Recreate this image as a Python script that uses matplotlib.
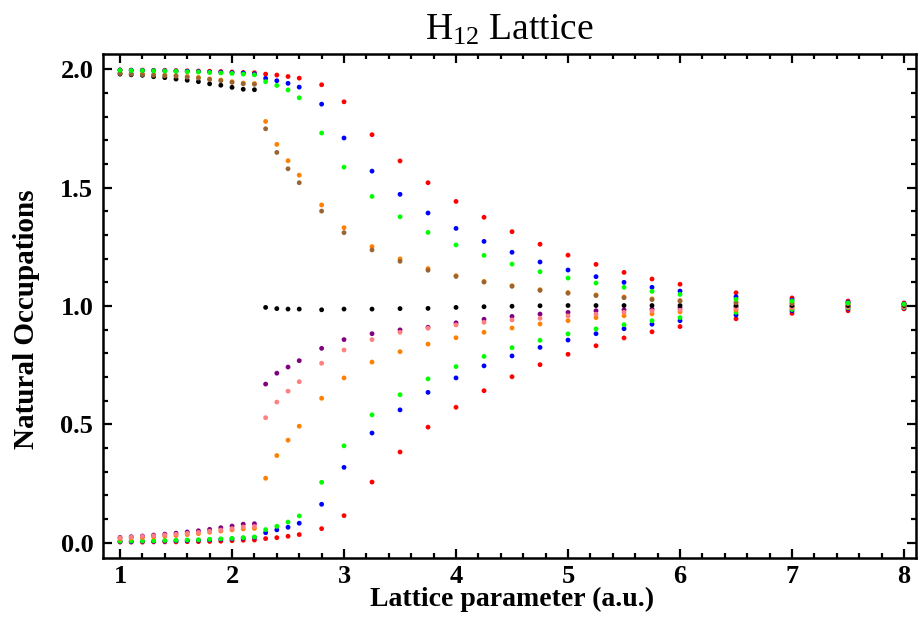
import matplotlib
matplotlib.use("Agg")
import matplotlib.pyplot as plt
from matplotlib.ticker import MultipleLocator

plt.rcParams['font.family'] = ['Liberation Serif', 'DejaVu Serif']
plt.rcParams['mathtext.fontset'] = 'custom'
plt.rcParams['mathtext.rm'] = 'Liberation Serif'
plt.rcParams['mathtext.it'] = 'Liberation Serif:italic'
plt.rcParams['mathtext.bf'] = 'Liberation Serif:bold'

lattice = [1.0, 1.1, 1.2, 1.3, 1.4, 1.5, 1.6, 1.7, 1.8, 1.9, 2.0, 2.1, 2.2,
           2.3, 2.4, 2.5, 2.6, 2.8, 3.0, 3.25, 3.5,
           3.75, 4.0, 4.25, 4.5, 4.75, 5.0, 5.25, 5.5, 5.75, 6.0,
           6.5, 7.0, 7.5, 8.0]

occ_red_hi = [1.998, 1.997, 1.997, 1.996, 1.996, 1.995, 1.994, 1.993, 1.992, 1.991, 1.989, 1.987, 1.986,
              1.980, 1.976, 1.970, 1.963, 1.935, 1.863, 1.724, 1.613,
              1.521, 1.442, 1.375, 1.314, 1.261, 1.215, 1.176, 1.142, 1.114, 1.092,
              1.056, 1.034, 1.021, 1.013]
occ_blue_hi = [1.997, 1.996, 1.996, 1.995, 1.994, 1.993, 1.992, 1.991, 1.989, 1.988, 1.986, 1.984, 1.981,
               1.962, 1.952, 1.941, 1.925, 1.853, 1.710, 1.570, 1.472,
               1.393, 1.328, 1.273, 1.227, 1.186, 1.152, 1.124, 1.100, 1.079, 1.063,
               1.039, 1.025, 1.016, 1.009]
occ_green_hi = [1.996, 1.995, 1.995, 1.994, 1.993, 1.992, 1.990, 1.989, 1.987, 1.985, 1.983, 1.980, 1.977,
                1.948, 1.932, 1.913, 1.880, 1.731, 1.587, 1.463, 1.377,
                1.311, 1.258, 1.214, 1.177, 1.145, 1.118, 1.097, 1.079, 1.062, 1.049,
                1.028, 1.021, 1.013, 1.008]
occ_orange_hi = [1.986, 1.983, 1.981, 1.978, 1.976, 1.974, 1.970, 1.966, 1.960, 1.955, 1.948, 1.942, 1.940,
                 1.780, 1.683, 1.614, 1.553, 1.427, 1.331, 1.251, 1.199,
                 1.158, 1.128, 1.104, 1.086, 1.069, 1.057, 1.047, 1.038, 1.030, 1.023,
                 1.015, 1.012, 1.010, 1.006]
occ_brown_hi = [1.983, 1.980, 1.978, 1.975, 1.973, 1.971, 1.967, 1.963, 1.957, 1.952, 1.945, 1.939, 1.937,
                1.749, 1.649, 1.580, 1.521, 1.401, 1.310, 1.237, 1.189,
                1.151, 1.125, 1.101, 1.083, 1.066, 1.054, 1.044, 1.035, 1.027, 1.021,
                1.014, 1.011, 1.010, 1.006]
occ_black = [1.980, 1.977, 1.975, 1.969, 1.965, 1.959, 1.954, 1.948, 1.939, 1.933, 1.924, 1.916, 1.914,
             0.994, 0.989, 0.987, 0.987, 0.984, 0.987, 0.987, 0.989,
             0.990, 0.994, 0.997, 0.999, 1.001, 1.002, 1.002, 1.002, 1.002, 1.002,
             1.002, 1.002, 1.002, 1.002]
occ_purple_lo = [0.022, 0.025, 0.028, 0.032, 0.036, 0.040, 0.045, 0.050, 0.056, 0.063, 0.070, 0.078, 0.080,
                 0.670, 0.716, 0.742, 0.769, 0.821, 0.858, 0.883, 0.899,
                 0.910, 0.929, 0.944, 0.956, 0.966, 0.973, 0.980, 0.984, 0.987, 0.992,
                 0.997, 0.998, 0.999, 1.000]
occ_pink_lo = [0.020, 0.023, 0.026, 0.029, 0.032, 0.035, 0.039, 0.043, 0.048, 0.053, 0.059, 0.066, 0.068,
               0.528, 0.594, 0.640, 0.680, 0.758, 0.814, 0.858, 0.889,
               0.906, 0.920, 0.931, 0.941, 0.948, 0.958, 0.965, 0.973, 0.979, 0.983,
               0.990, 0.994, 0.997, 0.998]
occ_orange_lo = [0.016, 0.019, 0.021, 0.024, 0.027, 0.030, 0.034, 0.038, 0.044, 0.049, 0.054, 0.058, 0.060,
                 0.272, 0.368, 0.433, 0.492, 0.610, 0.696, 0.763, 0.807,
                 0.839, 0.866, 0.889, 0.907, 0.924, 0.938, 0.951, 0.959, 0.967, 0.975,
                 0.983, 0.992, 0.995, 0.996]
occ_green_lo = [0.006, 0.007, 0.007, 0.008, 0.009, 0.010, 0.011, 0.012, 0.014, 0.016, 0.018, 0.021, 0.024,
                0.055, 0.069, 0.087, 0.113, 0.255, 0.409, 0.540, 0.625,
                0.692, 0.744, 0.787, 0.824, 0.855, 0.882, 0.903, 0.921, 0.938, 0.951,
                0.973, 0.985, 0.992, 0.994]
occ_blue_lo = [0.005, 0.005, 0.006, 0.006, 0.007, 0.008, 0.009, 0.010, 0.012, 0.014, 0.016, 0.019, 0.022,
               0.042, 0.054, 0.065, 0.082, 0.162, 0.318, 0.463, 0.561,
               0.635, 0.696, 0.747, 0.789, 0.825, 0.856, 0.883, 0.904, 0.923, 0.938,
               0.962, 0.980, 0.989, 0.992]
occ_red_lo = [0.002, 0.002, 0.002, 0.003, 0.003, 0.003, 0.004, 0.004, 0.005, 0.006, 0.008, 0.010, 0.011,
              0.017, 0.021, 0.027, 0.034, 0.059, 0.114, 0.256, 0.383,
              0.488, 0.572, 0.642, 0.701, 0.752, 0.796, 0.832, 0.865, 0.891, 0.913,
              0.946, 0.969, 0.980, 0.988]

series = [
    (occ_red_lo, '#FF0000'),
    (occ_blue_lo, '#0000FF'),
    (occ_green_lo, '#00FF00'),
    (occ_orange_lo, '#FF8000'),
    (occ_purple_lo, '#800080'),
    (occ_pink_lo, '#FF8080'),
    (occ_black, '#000000'),
    (occ_orange_hi, '#FF8000'),
    (occ_brown_hi, '#996633'),
    (occ_red_hi, '#FF0000'),
    (occ_blue_hi, '#0000FF'),
    (occ_green_hi, '#00FF00'),
]

fig = plt.figure(figsize=(9.22, 6.40), dpi=100)
ax = fig.add_axes([103/922, 1 - 558/640, (916 - 103)/922, (558 - 54)/640])

for vals, col in series:
    ax.scatter(lattice, vals, s=12, color=col, edgecolors='none', zorder=3)

ax.set_xlim(0.848, 8.107)
ax.set_ylim(-0.065, 2.065)

ax.xaxis.set_minor_locator(MultipleLocator(0.2))
ax.yaxis.set_minor_locator(MultipleLocator(0.1))
ax.set_yticks([0.0, 0.5, 1.0, 1.5, 2.0])
ax.set_yticklabels(['0.0', '0.5', '1.0', '1.5', '2.0'])
ax.set_xticks([1, 2, 3, 4, 5, 6, 7, 8])
ax.set_xticklabels(['1', '2', '3', '4', '5', '6', '7', '8'])

ax.tick_params(which='both', direction='in', top=True, right=True, width=1.6)
ax.tick_params(which='major', length=6.5, labelsize=19)
ax.tick_params(axis='x', which='major', pad=5)
ax.tick_params(axis='y', which='major', pad=7)
ax.tick_params(which='minor', length=3.5)
for lab in ax.get_xticklabels() + ax.get_yticklabels():
    lab.set_fontweight('bold')
for sp in ax.spines.values():
    sp.set_linewidth(1.8)

ax.set_xlabel('Lattice parameter (a.u.)', fontsize=20, fontweight='bold')
ax.set_ylabel('Natural Occupations', fontsize=21, fontweight='bold')
ax.xaxis.set_label_coords(0.503, -0.058)
ax.yaxis.set_label_coords(-0.078, 0.474)
fig.text(509.5/922, 1 - 30/640, 'H$_{12}$ Lattice', fontsize=27, ha='center', va='center')

fig.savefig('out.png', dpi=100)
